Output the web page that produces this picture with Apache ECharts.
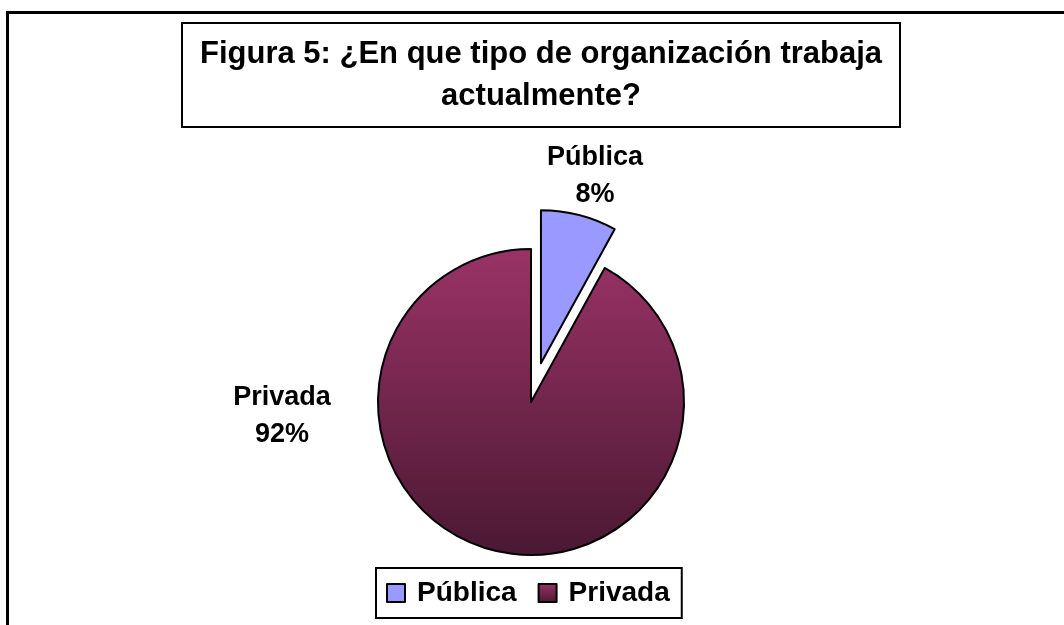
<!DOCTYPE html>
<html lang="es">
<head>
    <meta charset="UTF-8">
    <title>Figura 5</title>
    <script src="https://cdn.jsdelivr.net/npm/echarts@6/dist/echarts.min.js"></script>
    <style>
        html, body { margin: 0; padding: 0; background: #fff; }
    </style>
</head>
<body>
<div id="main" style="width: 1064px;height:625px;"></div>
<script type="text/javascript">
    // datos del gráfico
    var categorias = ['Pública', 'Privada'];
    var valores = [8, 92];
    var colores = ['#9999ff', null];

    var myChart = echarts.init(document.getElementById('main'));

    // degradado vertical del sector "Privada"
    var degradado = new echarts.graphic.LinearGradient(0, 0, 0, 1, [
        { offset: 0, color: '#9a3366' },
        { offset: 1, color: '#4a1832' }
    ]);

    var datos = categorias.map(function (nombre, i) {
        return {
            name: nombre,
            value: valores[i],
            selected: i === 0,
            itemStyle: { color: colores[i] || degradado }
        };
    });

    // posiciones de las etiquetas (como en el original)
    var posEtiquetas = {
        'Pública': [595, 176],
        'Privada': [282, 416]
    };

    var fuente = '"Liberation Sans", Arial, sans-serif';

    var total = valores.reduce(function (a, b) { return a + b; }, 0);
    var etiquetas = categorias.map(function (nombre, i) {
        var p = posEtiquetas[nombre];
        return {
            type: 'text',
            x: p[0],
            y: p[1],
            silent: true,
            style: {
                text: nombre + '\n' + Math.round(valores[i] / total * 100) + '%',
                font: 'bold 27px ' + fuente,
                fill: '#000',
                lineHeight: 37,
                align: 'center',
                verticalAlign: 'middle'
            }
        };
    });

    var option = {
        backgroundColor: '#fff',
        animation: false,
        title: {
            text: 'Figura 5: ¿En que tipo de organización trabaja\nactualmente?',
            left: 523,
            top: 23,
            textAlign: 'center',
            borderColor: '#000',
            borderWidth: 2,
            padding: [10, 18],
            textStyle: {
                fontFamily: fuente,
                fontSize: 31,
                fontWeight: 'bold',
                color: '#000',
                lineHeight: 42
            }
        },
        legend: {
            data: categorias,
            left: 376,
            top: 568,
            borderColor: '#000',
            borderWidth: 2,
            padding: [11, 12, 11, 10],
            itemWidth: 18,
            itemHeight: 18,
            itemGap: 21,
            icon: 'rect',
            textStyle: {
                fontFamily: fuente,
                fontSize: 28,
                fontWeight: 'bold',
                color: '#000',
                padding: [0, 0, 0, 7]
            }
        },
        graphic: [{
            type: 'rect',
            shape: { x: 7.5, y: 12.5, width: 1100, height: 700 },
            style: { fill: 'none', stroke: '#000', lineWidth: 3 },
            silent: true
        }].concat(etiquetas),
        series: [{
            name: 'Organización',
            type: 'pie',
            center: [531, 402],
            radius: 153,
            startAngle: 90,
            clockwise: true,
            selectedMode: 'single',
            selectedOffset: 40,
            itemStyle: {
                borderColor: '#000',
                borderWidth: 2
            },
            label: { show: false },
            labelLine: { show: false },
            emphasis: { disabled: true },
            data: datos
        }]
    };

    myChart.setOption(option);
</script>
</body>
</html>
